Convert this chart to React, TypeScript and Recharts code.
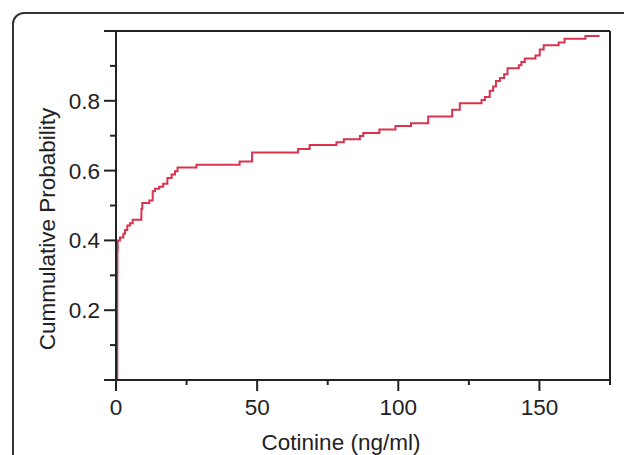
import { LineChart, Line, XAxis, YAxis, ReferenceLine } from "recharts";

// ECDF steps
const cotinine = [
  0.4, 0.45, 0.5, 0.6, 1.4, 2.6, 3.2, 4.0, 4.95, 5.9, 9.0, 9.3, 11.8, 13.0, 13.8, 15.3,
  16.7, 18.2, 19.7, 20.9, 21.8, 28.5, 43.8, 48.2, 64.5, 68.6, 78.1, 80.7, 86.4, 87.6,
  93.3, 99.0, 104.5, 110.6, 119.1, 121.8, 129.5, 130.7, 132.4, 133.6, 134.6, 136.0,
  137.5, 138.7, 142.7, 143.6, 144.8, 148.6, 150.1, 151.5, 156.8, 158.9, 166.3, 171.3,
];
const cumProb = [
  0, 0.3, 0.37, 0.4, 0.408, 0.419, 0.43, 0.443, 0.449, 0.459, 0.49, 0.507, 0.514, 0.541,
  0.548, 0.554, 0.562, 0.579, 0.589, 0.598, 0.609, 0.617, 0.626, 0.652, 0.662, 0.673,
  0.681, 0.69, 0.699, 0.708, 0.718, 0.728, 0.736, 0.755, 0.774, 0.793, 0.802, 0.811,
  0.829, 0.841, 0.857, 0.865, 0.876, 0.893, 0.902, 0.911, 0.921, 0.93, 0.947, 0.959,
  0.967, 0.978, 0.986, 0.986,
];

const xTicks = [0, 25, 50, 75, 100, 125, 150, 175];
const xLabels = [0, 50, 100, 150];
const yTicks = [0, 0.1, 0.2, 0.3, 0.4, 0.5, 0.6, 0.7, 0.8, 0.9, 1];
const yLabels = [0.2, 0.4, 0.6, 0.8];

const data = cotinine.map((x, i) => ({ x, p: cumProb[i] }));

const FONT = "'Liberation Sans', Arial, sans-serif";
const INK = "#222";
const FS = 22.5;

function XTick(props: any) {
  const { x, y, payload } = props;
  const major = xLabels.includes(payload.value);
  return (
    <g>
      <line x1={x} x2={x} y1={y} y2={y + (major ? 11 : 5)} stroke={INK} strokeWidth={2} />
      {major && (
        <text x={x} y={y + 34.5} textAnchor="middle" fontSize={FS} fontFamily={FONT} fill={INK}>
          {payload.value}
        </text>
      )}
    </g>
  );
}

function YTick(props: any) {
  const { x, y, payload } = props;
  const v = Math.round(payload.value * 10) / 10;
  const major = Math.round(v * 10) % 2 === 0;
  const labelled = yLabels.includes(v);
  return (
    <g>
      <line x1={x - (major ? 12 : 6)} x2={x} y1={y} y2={y} stroke={INK} strokeWidth={2} />
      {labelled && (
        <text x={x - 16} y={y + 8} textAnchor="end" fontSize={FS} fontFamily={FONT} fill={INK}>
          {v.toFixed(1)}
        </text>
      )}
    </g>
  );
}

export default function App() {
  return (
    <div style={{ position: "absolute", left: 0, top: 0, width: 624, height: 455, overflow: "hidden", background: "#fff" }}>
      <div
        style={{
          position: "absolute",
          left: 12,
          top: 12,
          width: 700,
          height: 600,
          border: "2px solid #333",
          borderRadius: 12,
        }}
      />
      <LineChart
        width={624}
        height={455}
        data={data}
        margin={{ top: 31, right: 14, bottom: 0, left: 0 }}
        style={{ position: "absolute", left: 0, top: 0 }}
      >
        <XAxis
          dataKey="x"
          type="number"
          domain={[0, 175]}
          ticks={xTicks}
          height={75}
          tickLine={false}
          tickSize={0}
          tickMargin={0}
          axisLine={{ stroke: INK, strokeWidth: 2 }}
          tick={<XTick />}
          interval={0}
          allowDataOverflow
          label={{
            content: () => (
              <text x={341} y={450} textAnchor="middle" fontSize={FS} fontFamily={FONT} fill={INK}>
                Cotinine (ng/ml)
              </text>
            ),
          }}
        />
        <YAxis
          type="number"
          domain={[0, 1]}
          ticks={yTicks}
          width={116}
          tickLine={false}
          tickSize={0}
          tickMargin={0}
          axisLine={{ stroke: INK, strokeWidth: 2 }}
          tick={<YTick />}
          interval={0}
          allowDataOverflow
          label={{
            content: () => (
              <text
                x={55}
                y={229}
                transform="rotate(-90 55 229)"
                textAnchor="middle"
                fontSize={FS}
                fontFamily={FONT}
                fill={INK}
              >
                Cummulative Probability
              </text>
            ),
          }}
        />
        <ReferenceLine y={1} stroke={INK} strokeWidth={2} />
        <ReferenceLine x={175} stroke={INK} strokeWidth={2} />
        <Line
          type="stepAfter"
          dataKey="p"
          stroke="#d9344d"
          strokeWidth={2}
          dot={false}
          isAnimationActive={false}
        />
      </LineChart>
    </div>
  );
}
